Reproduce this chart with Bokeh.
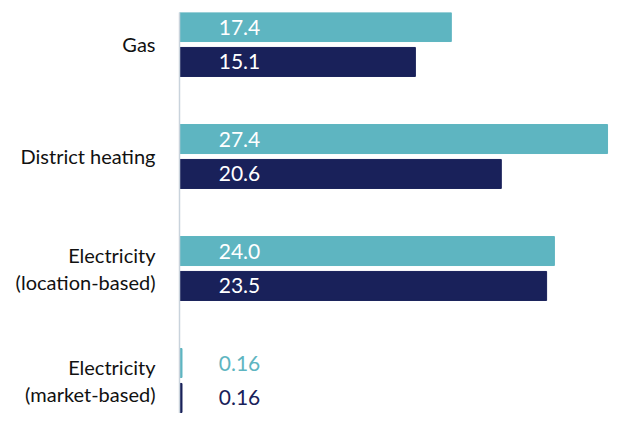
from bokeh.plotting import figure
from bokeh.models import ColumnDataSource, Range1d, FixedTicker
from bokeh.core.properties import value
from bokeh.embed import file_html
from bokeh.resources import INLINE

# ---- data ----
categories = ["Gas", "District heating", "Electricity\n(location-based)", "Electricity\n(market-based)"]
series_a = [17.4, 27.4, 24.0, 0.16]   # light teal bars (upper in each group)
series_b = [15.1, 20.6, 23.5, 0.16]   # dark navy bars (lower in each group)
labels_a = ["17.4", "27.4", "24.0", "0.16"]
labels_b = ["15.1", "20.6", "23.5", "0.16"]

# ---- styling ----
TEAL = "#5eb5c1"
NAVY = "#19215a"
FONT = "Lato"
BAR_H = 0.259
DODGE = 0.156

n = len(categories)
ypos = [n - 1 - i for i in range(n)]  # first category on top

def label_colors(vals, bar_color):
    return ["white" if v > 3 else bar_color for v in vals]

src_a = ColumnDataSource(dict(y=[y + DODGE for y in ypos], v=series_a, t=labels_a,
                              tc=label_colors(series_a, TEAL)))
src_b = ColumnDataSource(dict(y=[y - DODGE for y in ypos], v=series_b, t=labels_b,
                              tc=label_colors(series_b, NAVY)))

p = figure(width=610, height=413, output_backend="svg", toolbar_location=None,
           x_range=Range1d(0, 27.59), y_range=Range1d(-0.2947, 3.2857),
           min_border_left=179, min_border_right=0, min_border_top=12, min_border_bottom=0)

p.hbar(y="y", right="v", left=0, height=BAR_H, color=TEAL, source=src_a)
p.hbar(y="y", right="v", left=0, height=BAR_H, color=NAVY, source=src_b)

for src in (src_a, src_b):
    p.text(x=0, y="y", text="t", source=src, x_offset=60, text_align="center",
           text_baseline="middle", text_color="tc", text_font=value(FONT),
           text_font_size="21px")

p.xaxis.visible = False
p.xgrid.visible = False
p.ygrid.visible = False
p.outline_line_color = None

yax = p.yaxis[0]
yax.ticker = FixedTicker(ticks=ypos)
yax.major_label_overrides = {y: c for y, c in zip(ypos, categories)}
yax.major_tick_line_color = None
yax.minor_tick_line_color = None
yax.major_tick_out = 0
yax.major_tick_in = 0
yax.major_label_standoff = 24
yax.major_label_text_font = FONT
yax.major_label_text_font_size = "20px"
yax.major_label_text_line_height = 1.15
yax.major_label_text_color = "#111111"
yax.axis_line_color = "#c9d3dc"
yax.axis_line_width = 1.5

open("out.html", "w").write(file_html(p, INLINE))
